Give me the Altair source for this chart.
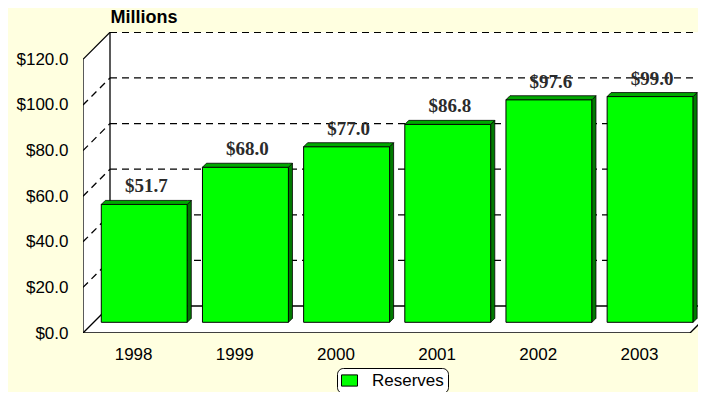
import altair as alt
import pandas as pd

# ---- data ----
years = ["1998", "1999", "2000", "2001", "2002", "2003"]
reserves = [51.7, 68.0, 77.0, 86.8, 97.6, 99.0]
series_name = "Reserves"
y_ticks = [0, 20, 40, 60, 80, 100, 120]

# ---- geometry (scale units) ----
W, H = 615, 301
SLOT_PX = 101.17
XMAX = W / SLOT_PX
YMAX = 132.0
PX_PER_UNIT = H / YMAX
N = len(years)
YTOP = y_ticks[-1]


def ddx(px):
    return px / SLOT_PX


def ddy(px):
    return px / PX_PER_UNIT


DX, DY = ddx(27), ddy(27)          # wall depth
BDX0, BDY0 = ddx(10.7), ddy(10.7)  # bar front depth
BDX, BDY = ddx(4), ddy(4)          # bar thickness
BAR_W = 0.85

xs = alt.Scale(domain=[0, XMAX], nice=False, zero=False)
ys = alt.Scale(domain=[0, YMAX], nice=False, zero=False)

y_axis = alt.Axis(values=y_ticks, format="$.1f", domain=False, ticks=False, grid=False,
                  labelFont="Liberation Sans", labelFontSize=17, labelColor="black",
                  labelPadding=15,
                  title="Millions", titleAngle=0, titleX=27, titleY=-10, titleAlign="left",
                  titleBaseline="alphabetic", titleFont="Liberation Sans", titleFontSize=18,
                  titleFontWeight="bold", titleColor="black")


def X(field):
    return alt.X(field, scale=xs, axis=None)


def Y(field):
    return alt.Y(field, scale=ys, axis=y_axis)


# ---- bars ----
bars = pd.DataFrame({"year": years, "value": reserves, "series": series_name})
bars["i"] = range(N)
bars["xl"] = bars["i"] + 0.5 + BDX0 - BAR_W / 2
bars["xr"] = bars["xl"] + BAR_W
bars["yb"] = BDY0
bars["yt"] = bars["value"] + BDY0
bars["xc"] = (bars["xl"] + bars["xr"]) / 2 + BDX / 2
bars["ylab"] = bars["yt"] + BDY
bars["label"] = bars["value"].map(lambda v: f"${v:.1f}")
bars["xlab"] = bars["i"] + 0.5
bars["y0"] = 0.0

side_rows, top_rows = [], []
for _, r in bars.iterrows():
    side_rows += [
        dict(year=r.year, k=0, x=r.xr, y=r.yb, y2=r.yt),
        dict(year=r.year, k=1, x=r.xr + BDX, y=r.yb + BDY, y2=r.yt + BDY),
    ]
    top_rows += [
        dict(year=r.year, k=0, x=r.xl, y=r.yt, y2=r.yt),
        dict(year=r.year, k=1, x=r.xl + BDX, y=r.yt, y2=r.yt + BDY),
        dict(year=r.year, k=2, x=r.xr, y=r.yt, y2=r.yt + BDY),
        dict(year=r.year, k=3, x=r.xr + BDX, y=r.yt + BDY, y2=r.yt + BDY),
    ]
side_df = pd.DataFrame(side_rows)
top_df = pd.DataFrame(top_rows)

# ---- frame ----
wall_df = pd.DataFrame({
    "k": [0, 1, 2, 3],
    "x": [0, DX, N, N + DX],
    "y": [0, 0, 0, DY],
    "y2": [YTOP, YTOP + DY, YTOP + DY, YTOP + DY],
})

solid_df = pd.DataFrame([
    dict(x=0, y=0, x2=0, y2=YTOP),
    dict(x=DX, y=DY, x2=DX, y2=YTOP + DY),
    dict(x=0, y=YTOP, x2=DX, y2=YTOP + DY),
    dict(x=0, y=0, x2=DX, y2=DY),
    dict(x=0, y=0, x2=N, y2=0),
    dict(x=DX, y=DY, x2=XMAX, y2=DY),
    dict(x=N, y=0, x2=N + DX, y2=DY),
])

dash_rows = []
for v in y_ticks[1:-1]:
    dash_rows.append(dict(x=0, y=v, x2=DX, y2=v + DY))
for v in y_ticks[1:]:
    dash_rows.append(dict(x=DX, y=v + DY, x2=XMAX, y2=v + DY))
dash_df = pd.DataFrame(dash_rows)

# ---- layers ----
wall = alt.Chart(wall_df).mark_area(fill="white", fillOpacity=1, clip=True,
                                    interpolate="linear", orient="vertical").encode(
    x=X("x:Q"), y=Y("y:Q"), y2="y2:Q",
)

dashed = alt.Chart(dash_df).mark_rule(color="black", strokeDash=[7, 5], strokeWidth=1.3,
                                      clip=True).encode(
    x=X("x:Q"), y=Y("y:Q"), x2="x2:Q", y2="y2:Q",
)

solid = alt.Chart(solid_df).mark_rule(color="black", strokeWidth=1.3, clip=True).encode(
    x=X("x:Q"), y=Y("y:Q"), x2="x2:Q", y2="y2:Q",
)

front = alt.Chart(bars).mark_rect(stroke="black", strokeWidth=1).encode(
    x=X("xl:Q"), x2="xr:Q", y=Y("yb:Q"), y2="yt:Q",
    color=alt.Color("series:N",
                    scale=alt.Scale(domain=[series_name], range=["#00FF00"]),
                    legend=alt.Legend(orient="none", legendX=254, legendY=336, title=None,
                                      fillColor="white", strokeColor="black", cornerRadius=6,
                                      padding=4,
                                      symbolType="M-1,-0.7L1,-0.7L1,0.7L-1,0.7Z",
                                      symbolSize=256, symbolStrokeColor="black",
                                      symbolStrokeWidth=1, labelFont="Liberation Sans",
                                      labelFontSize=17, labelColor="black", labelOffset=14)),
)

side = alt.Chart(side_df).mark_area(fill="#007A00", fillOpacity=1, stroke="black",
                                    strokeWidth=0.8, interpolate="linear",
                                    orient="vertical").encode(
    x=X("x:Q"), y=Y("y:Q"), y2="y2:Q", detail="year:N",
)

top = alt.Chart(top_df).mark_area(fill="#00A800", fillOpacity=1, stroke="black",
                                  strokeWidth=0.8, interpolate="linear",
                                  orient="vertical").encode(
    x=X("x:Q"), y=Y("y:Q"), y2="y2:Q", detail="year:N",
)

labels = alt.Chart(bars).mark_text(font="Liberation Serif", fontSize=19, fontWeight="bold",
                                   color="#2b2b2b", baseline="alphabetic", dy=-8).encode(
    x=X("xc:Q"), y=Y("ylab:Q"), text="label:N",
)

xlabels = alt.Chart(bars).mark_text(font="Liberation Sans", fontSize=17, color="black",
                                    baseline="middle", dy=22).encode(
    x=X("xlab:Q"), y=Y("y0:Q"), text="year:N",
)

chart = alt.layer(wall, dashed, solid, front, side, top, labels, xlabels).properties(
    width=W, height=H,
    autosize=alt.AutoSizeParams(type="none"),
    padding={"left": 75, "top": 24, "right": 0, "bottom": 59},
    background="#FFFFE0",
).configure_view(strokeWidth=0)

chart.save("out.html", embed_options={"renderer": "svg", "actions": False})
